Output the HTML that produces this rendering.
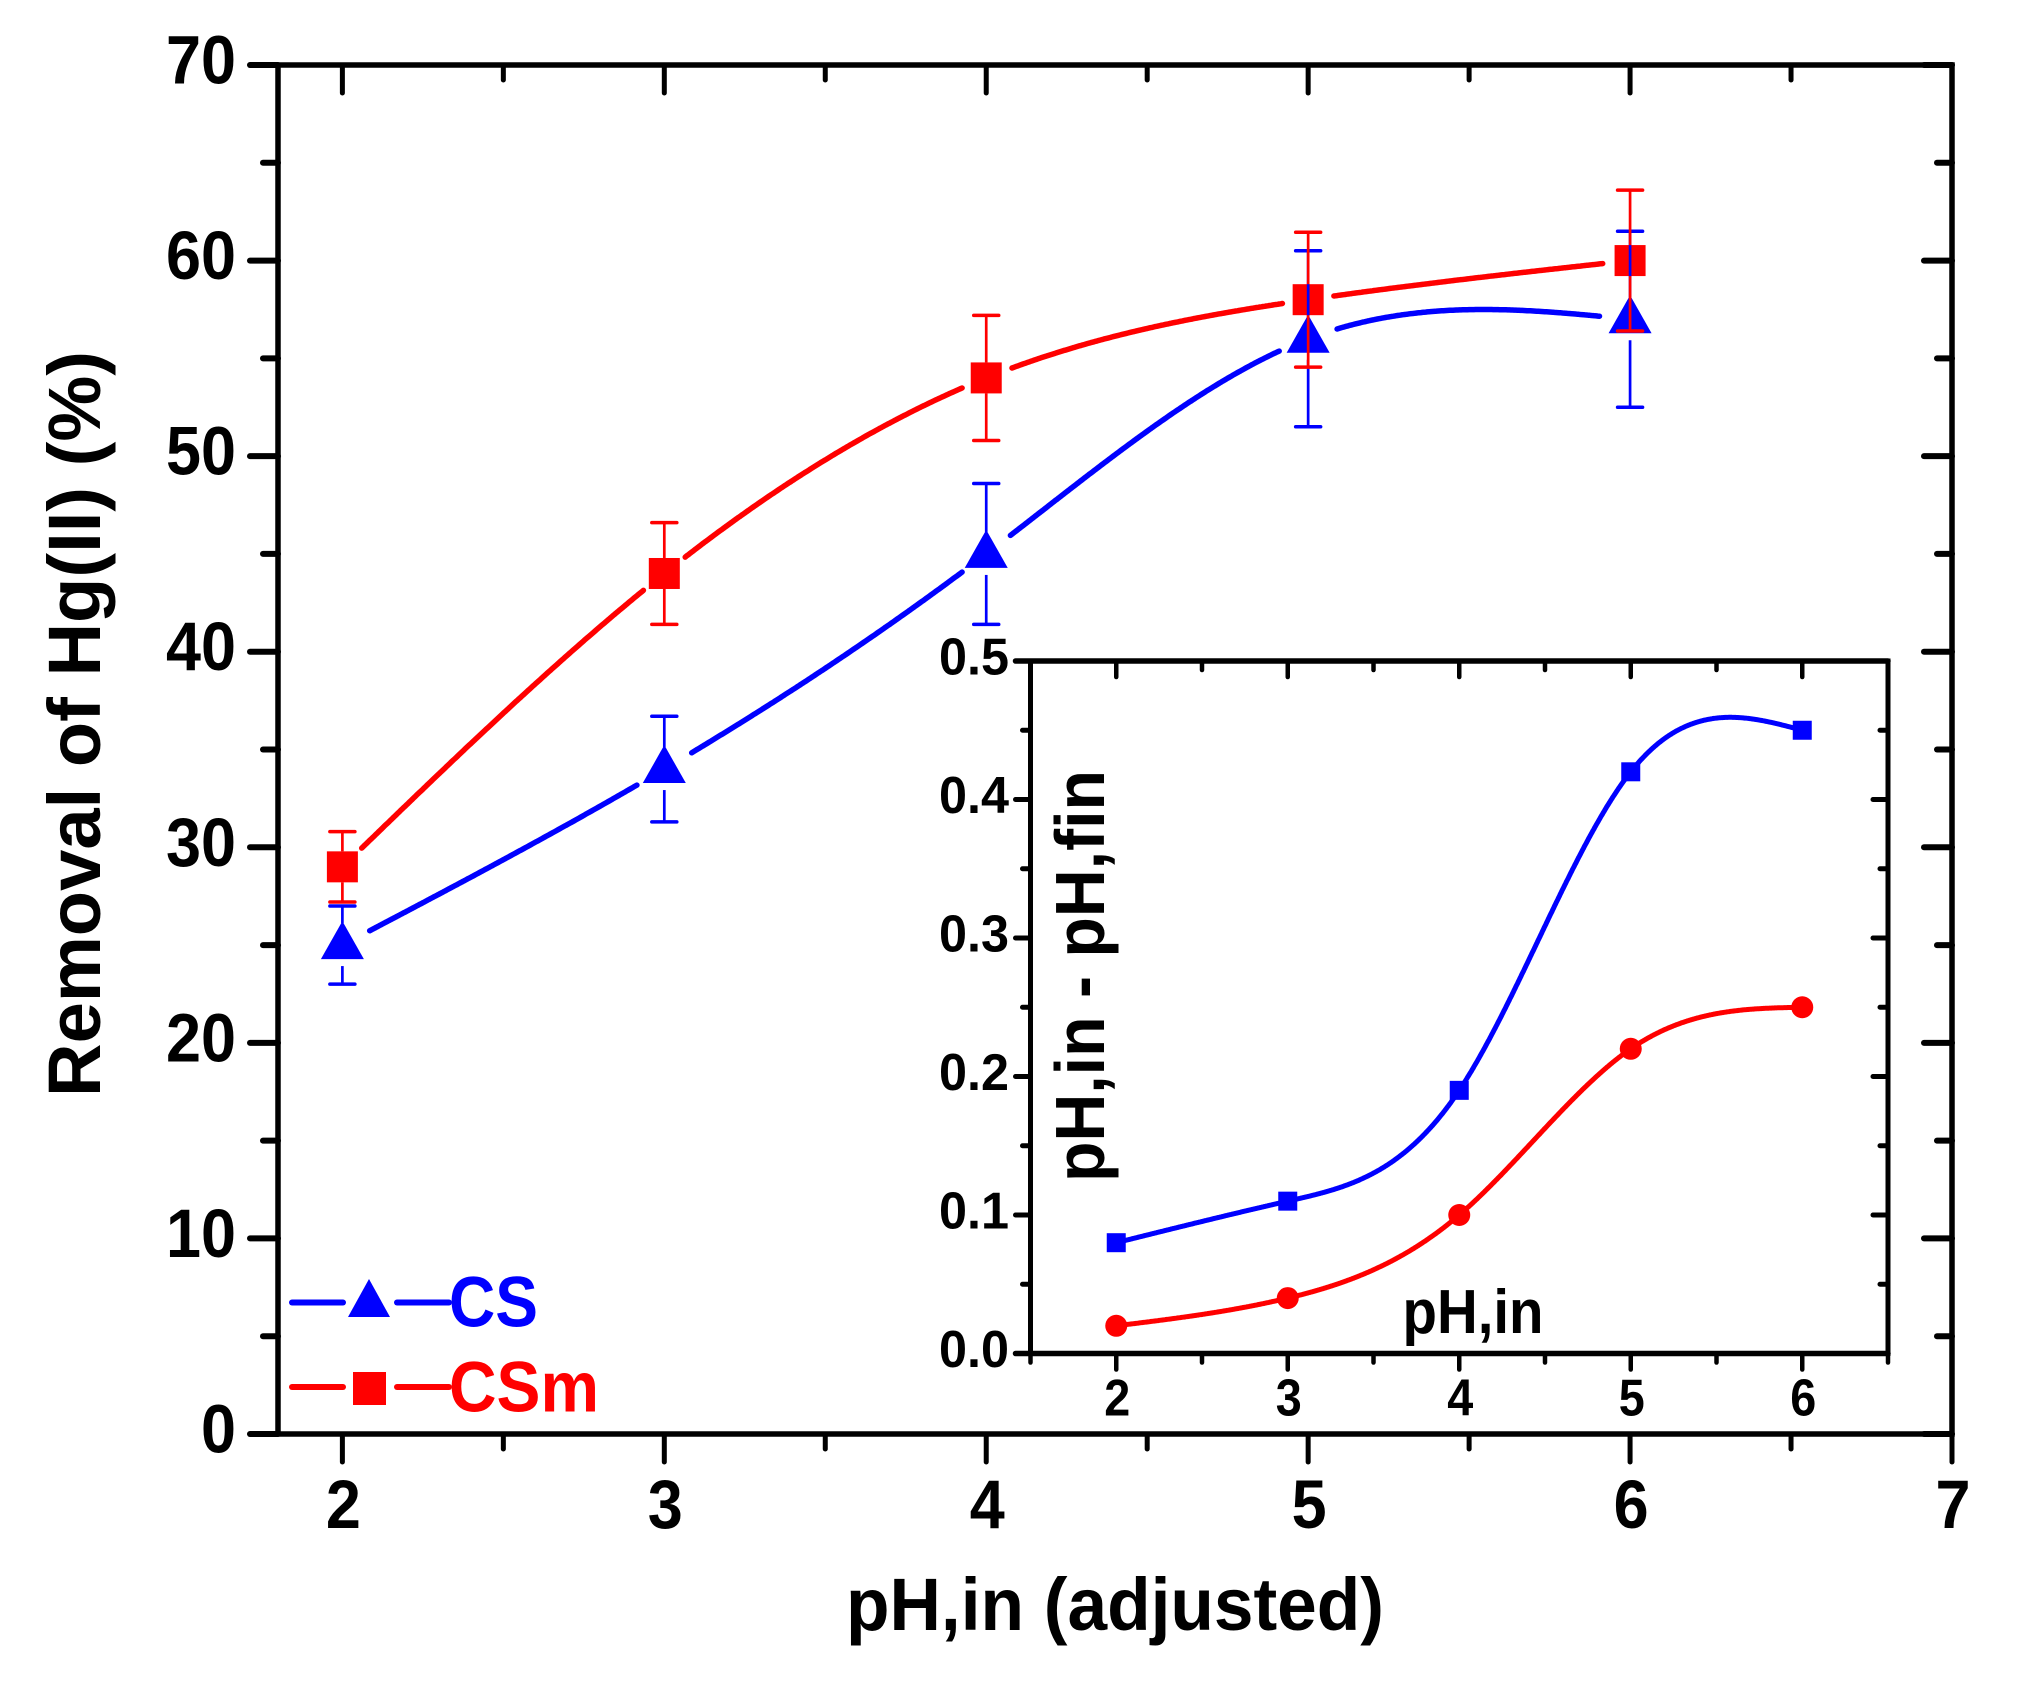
<!DOCTYPE html>
<html>
<head>
<meta charset="utf-8">
<title>Removal of Hg(II) vs pH</title>
<style>
html,body{margin:0;padding:0;background:#fff;}
svg{display:block;}
text{font-family:"Liberation Sans",Arial,sans-serif;font-weight:bold;}
</style>
</head>
<body>
<svg id="chart" xmlns="http://www.w3.org/2000/svg" width="2024" height="1691" viewBox="0 0 2024 1691"></svg>
<script>
// Main chart data
const phValues = [2, 3, 4, 5, 6];
const csRemoval = [25, 34, 45, 56, 57];
const csError = [2, 2.7, 3.6, 4.5, 4.5];
const csmRemoval = [29, 44, 54, 58, 60];
const csmError = [1.8, 2.6, 3.2, 3.45, 3.6];
const mainXTicks = [2, 3, 4, 5, 6, 7];
const mainXMinor = [2.5, 3.5, 4.5, 5.5, 6.5];
const mainYTicks = [0, 10, 20, 30, 40, 50, 60, 70];
const mainYMinor = [5, 15, 25, 35, 45, 55, 65];
// Inset data
const insetPh = [2, 3, 4, 5, 6];
const insetCs = [0.08, 0.11, 0.19, 0.42, 0.45];
const insetCsm = [0.02, 0.04, 0.10, 0.22, 0.25];
const insetXTicks = [2, 3, 4, 5, 6];
const insetXMinor = [1.5, 2.5, 3.5, 4.5, 5.5, 6.5];
const insetYTicks = ['0.0', '0.1', '0.2', '0.3', '0.4', '0.5'];
const insetYMinor = [0.05, 0.15, 0.25, 0.35, 0.45];

const BLUE = '#0000ff', RED = '#ff0000', BLACK = '#000000';
const NS = 'http://www.w3.org/2000/svg';
const svg = document.getElementById('chart');

// Axis functions
const M = {l: 278, r: 1952, t: 65, b: 1434, x0: 1.8, x1: 7, y0: 0, y1: 70};
const I = {l: 1030.5, r: 1888, t: 661, b: 1353.5, x0: 1.5, x1: 6.5, y0: 0, y1: 0.5};
function sx(a, v) { return a.l + (v - a.x0) / (a.x1 - a.x0) * (a.r - a.l); }
function sy(a, v) { return a.b - (v - a.y0) / (a.y1 - a.y0) * (a.b - a.t); }

function mk(tag, name, attrs, parent) {
  const el = document.createElementNS(NS, tag);
  
  
  for (const k in attrs) el.setAttribute(k, attrs[k]);
  (parent || svg).appendChild(el);
  return el;
}
function line(name, x1, y1, x2, y2, color, w, cap) {
  return mk('line', name, {x1, y1, x2, y2, stroke: color, 'stroke-width': w, 'stroke-linecap': cap || 'round'});
}
function label(name, str, x, y, size, anchor, color, len, rot) {
  const attrs = {x, y, 'font-size': size, 'text-anchor': anchor, fill: color};
  if (len) { attrs.textLength = len; attrs.lengthAdjust = 'spacingAndGlyphs'; }
  if (rot) attrs.transform = 'rotate(' + rot + ' ' + x + ' ' + y + ')';
  const t = mk('text', name, attrs);
  t.textContent = str;
  return t;
}

// Natural cubic spline through the data, sampled in data space
function spline(xs, ys, per) {
  const n = xs.length, d2 = new Array(n).fill(0), u = new Array(n).fill(0);
  for (let i = 1; i < n - 1; i++) {
    const sig = (xs[i] - xs[i - 1]) / (xs[i + 1] - xs[i - 1]);
    const p = sig * d2[i - 1] + 2;
    d2[i] = (sig - 1) / p;
    const du = (ys[i + 1] - ys[i]) / (xs[i + 1] - xs[i]) - (ys[i] - ys[i - 1]) / (xs[i] - xs[i - 1]);
    u[i] = (6 * du / (xs[i + 1] - xs[i - 1]) - sig * u[i - 1]) / p;
  }
  for (let i = n - 2; i >= 0; i--) d2[i] = d2[i] * d2[i + 1] + u[i];
  const segs = [];
  for (let i = 0; i < n - 1; i++) {
    const h = xs[i + 1] - xs[i], pts = [];
    for (let k = 0; k <= per; k++) {
      const b = k / per, a = 1 - b;
      const y = a * ys[i] + b * ys[i + 1] + ((a * a * a - a) * d2[i] + (b * b * b - b) * d2[i + 1]) * h * h / 6;
      pts.push([xs[i] + b * h, y]);
    }
    segs.push(pts);
  }
  return segs;
}
function drawCurve(name, axis, xs, ys, color, w, gap) {
  spline(xs, ys, 200).forEach(function (pts, i) {
    const p0 = [sx(axis, xs[i]), sy(axis, ys[i])];
    const p1 = [sx(axis, xs[i + 1]), sy(axis, ys[i + 1])];
    const px = pts.map(function (p) { return [sx(axis, p[0]), sy(axis, p[1])]; }).filter(function (p) {
      return Math.hypot(p[0] - p0[0], p[1] - p0[1]) >= gap && Math.hypot(p[0] - p1[0], p[1] - p1[1]) >= gap;
    });
    mk('polyline', name + '-segment-' + (i + 1), {
      points: px.map(function (p) { return p[0].toFixed(1) + ',' + p[1].toFixed(1); }).join(' '),
      fill: 'none', stroke: color, 'stroke-width': w, 'stroke-linecap': 'round', 'stroke-linejoin': 'round'
    });
  });
}
function triangle(name, cx, cy, color) {
  mk('polygon', name, {points: cx + ',' + (cy - 24) + ' ' + (cx - 21.5) + ',' + (cy + 14) + ' ' + (cx + 21.5) + ',' + (cy + 14), fill: color});
}
function square(name, cx, cy, s, color) {
  mk('rect', name, {x: cx - s / 2, y: cy - s / 2, width: s, height: s, fill: color});
}
function errorBar(name, cx, yTop, yBot, gapTop, gapBot, color) {
  line(name + '-upper', cx, yTop, cx, gapTop, color, 2.7, 'butt');
  line(name + '-lower', cx, gapBot, cx, yBot, color, 2.7, 'butt');
  line(name + '-cap-top', cx - 12.5, yTop, cx + 12.5, yTop, color, 3.5);
  line(name + '-cap-bottom', cx - 12.5, yBot, cx + 12.5, yBot, color, 3.5);
}

// ---- Main curves
drawCurve('cs-line', M, phValues, csRemoval, BLUE, 5.5, 30);
drawCurve('csm-line', M, phValues, csmRemoval, RED, 5.5, 26);
phValues.forEach(function (p, i) {
  square('csm-marker-ph' + p, sx(M, p), sy(M, csmRemoval[i]), 31, RED);
});
phValues.forEach(function (p, i) {
  const cx = sx(M, p), cy = sy(M, csRemoval[i]);
  triangle('cs-marker-ph' + p, cx, cy, BLUE);
  errorBar('cs-error-ph' + p, cx, sy(M, csRemoval[i] + csError[i]), sy(M, csRemoval[i] - csError[i]), cy - 22, cy + 21, BLUE);
});
phValues.forEach(function (p, i) {
  const cx = sx(M, p), cy = sy(M, csmRemoval[i]);
  errorBar('csm-error-ph' + p, cx, sy(M, csmRemoval[i] + csmError[i]), sy(M, csmRemoval[i] - csmError[i]), cy - 15.5, cy + 15.5, RED);
});

// ---- Main axes
line('plot-frame-top', M.l - 28, M.t, M.r, M.t, BLACK, 5.5);
line('plot-frame-bottom', M.l - 28, M.b, M.r, M.b, BLACK, 5.5);
line('plot-frame-left', M.l, M.t, M.l, M.b, BLACK, 5.5, 'butt');
line('plot-frame-right', M.r, M.t, M.r, M.b, BLACK, 5.5, 'square');
mainXTicks.forEach(function (v) {
  const x = sx(M, v);
  line('x-tick-' + v, x, M.b, x, M.b + 28, BLACK, 5);
  line('x-tick-top-' + v, x, M.t, x, M.t + 28, BLACK, 5);
  label('x-tick-label-' + v, String(v), x + 1, 1528, 69, 'middle', BLACK, 35);
});
mainXMinor.forEach(function (v) {
  const x = sx(M, v);
  line('x-minor-tick-' + v, x, M.b, x, M.b + 15, BLACK, 5);
  line('x-minor-tick-top-' + v, x, M.t, x, M.t + 15, BLACK, 5);
});
mainYTicks.forEach(function (v) {
  const y = sy(M, v);
  line('y-tick-' + v, M.l - 28, y, M.l, y, BLACK, 6);
  line('y-tick-right-' + v, M.r - 28, y, M.r, y, BLACK, 6);
  const txt = String(v);
  label('y-tick-label-' + v, txt, 236, y + 18.5, 69, 'end', BLACK, txt.length * 35);
});
mainYMinor.forEach(function (v) {
  const y = sy(M, v);
  line('y-minor-tick-' + v, M.l - 15, y, M.l, y, BLACK, 6);
  line('y-minor-tick-right-' + v, M.r - 15, y, M.r, y, BLACK, 6);
});
label('x-axis-title', 'pH,in (adjusted)', 1115, 1630, 74, 'middle', BLACK, 538);
label('y-axis-title', 'Removal of Hg(II) (%)', 100, 724, 74, 'middle', BLACK, 746, -90);

// ---- Legend
line('legend-cs-line-left', 292, 1302.5, 343, 1302.5, BLUE, 6);
line('legend-cs-line-right', 397, 1302.5, 449, 1302.5, BLUE, 6);
mk('polygon', 'legend-cs-marker', {points: '369,1279 348,1317 390,1317', fill: BLUE});
label('legend-cs-label', 'CS', 449, 1326.5, 71, 'start', BLUE, 89);
line('legend-csm-line-left', 292, 1387, 343, 1387, RED, 6);
line('legend-csm-line-right', 397, 1387, 449, 1387, RED, 6);
mk('rect', 'legend-csm-marker', {x: 353, y: 1372, width: 33, height: 33, fill: RED});
label('legend-csm-label', 'CSm', 449, 1411.5, 71, 'start', RED, 150);

// ---- Inset
mk('rect', 'inset-background', {x: I.l, y: I.t, width: I.r - I.l, height: I.b - I.t, fill: '#ffffff'});
drawCurve('inset-cs-line', I, insetPh, insetCs, BLUE, 5, 0);
drawCurve('inset-csm-line', I, insetPh, insetCsm, RED, 5, 0);
insetPh.forEach(function (p, i) {
  square('inset-cs-marker-ph' + p, sx(I, p), sy(I, insetCs[i]), 19, BLUE);
  mk('circle', 'inset-csm-marker-ph' + p, {cx: sx(I, p), cy: sy(I, insetCsm[i]), r: 11, fill: RED});
});
line('inset-frame-top', I.l - 15, I.t, I.r, I.t, BLACK, 5.5);
line('inset-frame-bottom', I.l - 15, I.b, I.r, I.b, BLACK, 5.5);
line('inset-frame-left', I.l, I.t, I.l, I.b, BLACK, 5, 'butt');
line('inset-frame-right', I.r, I.t, I.r, I.b, BLACK, 5, 'square');
insetXTicks.forEach(function (v) {
  const x = sx(I, v);
  line('inset-x-tick-' + v, x, I.b, x, I.b + 16, BLACK, 4.5);
  line('inset-x-tick-top-' + v, x, I.t, x, I.t + 16, BLACK, 4.5);
  label('inset-x-tick-label-' + v, String(v), x + 1, 1415.5, 52, 'middle', BLACK, 26);
});
insetXMinor.forEach(function (v) {
  const x = sx(I, v);
  line('inset-x-minor-tick-' + v, x, I.b, x, I.b + 9, BLACK, 4.5);
  line('inset-x-minor-tick-top-' + v, x, I.t, x, I.t + 9, BLACK, 4.5);
});
insetYTicks.forEach(function (v) {
  const y = sy(I, parseFloat(v));
  line('inset-y-tick-' + v, I.l - 15, y, I.l, y, BLACK, 5);
  line('inset-y-tick-right-' + v, I.r - 15, y, I.r, y, BLACK, 5);
  label('inset-y-tick-label-' + v, v, 1009, y + 13.5, 52, 'end', BLACK, 70);
});
insetYMinor.forEach(function (v) {
  const y = sy(I, v);
  line('inset-y-minor-tick-' + v, I.l - 8, y, I.l, y, BLACK, 5);
  line('inset-y-minor-tick-right-' + v, I.r - 8, y, I.r, y, BLACK, 5);
});
label('inset-x-axis-title', 'pH,in', 1473, 1333, 62, 'middle', BLACK, 141);
label('inset-y-axis-title', 'pH,in - pH,fin', 1104, 976, 70, 'middle', BLACK, 412, -90);
</script>
</body>
</html>
